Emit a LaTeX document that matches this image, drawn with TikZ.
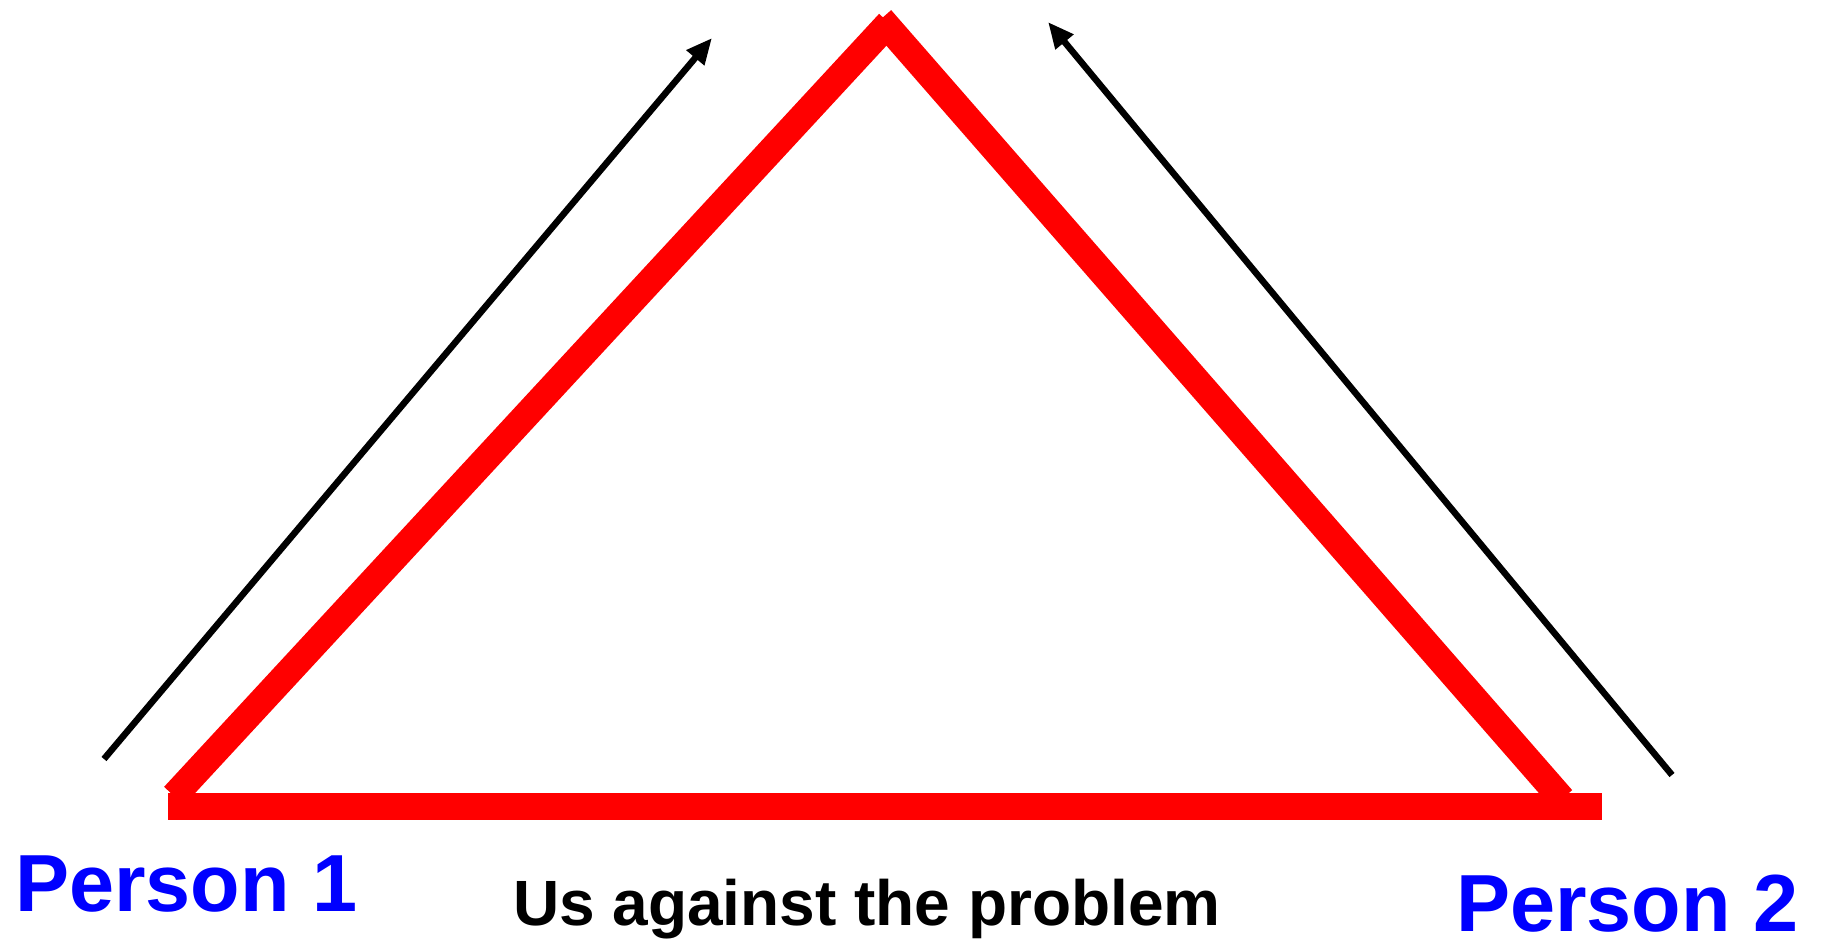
\documentclass[tikz,border=0pt]{standalone}
\usepackage{fontspec}
\setmainfont{Liberation Sans}
\usetikzlibrary{arrows.meta}

\begin{document}
\begin{tikzpicture}[
  x=1pt,y=-1pt,
  side/.style={draw=red,line width=27pt},
  push/.style={-{Triangle[length=26pt,width=22pt]},line width=6.5pt},
  who/.style={anchor=base west,inner sep=0pt,text=blue,
    font=\bfseries\fontsize{81}{96}\selectfont},
  caption/.style={anchor=base west,inner sep=0pt,
    font=\bfseries\fontsize{64}{76}\selectfont}
]
\useasboundingbox (0,0) rectangle (1829,940);
% triangle corners
\coordinate (leftfoot) at (174,796);
\coordinate (lefttop) at (889,23);
\coordinate (righttop) at (881,19);
\coordinate (rightfoot) at (1562,799);
\coordinate (basel) at (168,806.5);
\coordinate (baser) at (1602,806.5);
% arrow ends
\coordinate (p1start) at (104,759);
\coordinate (p1end) at (712,38);
\coordinate (p2start) at (1672,775);
\coordinate (p2end) at (1048,22);
\draw[side] (leftfoot)--(lefttop);
\draw[side] (righttop)--(rightfoot);
\draw[side] (basel)--(baser);
\draw[push] (p1start)--(p1end);
\draw[push] (p2start)--(p2end);
\node[who] (person1) at (15,911) {Person 1};
\node[who] (person2) at (1456,931) {Person 2};
\node[caption] (problem) at (513,925) {Us against the problem};
\end{tikzpicture}
\end{document}
